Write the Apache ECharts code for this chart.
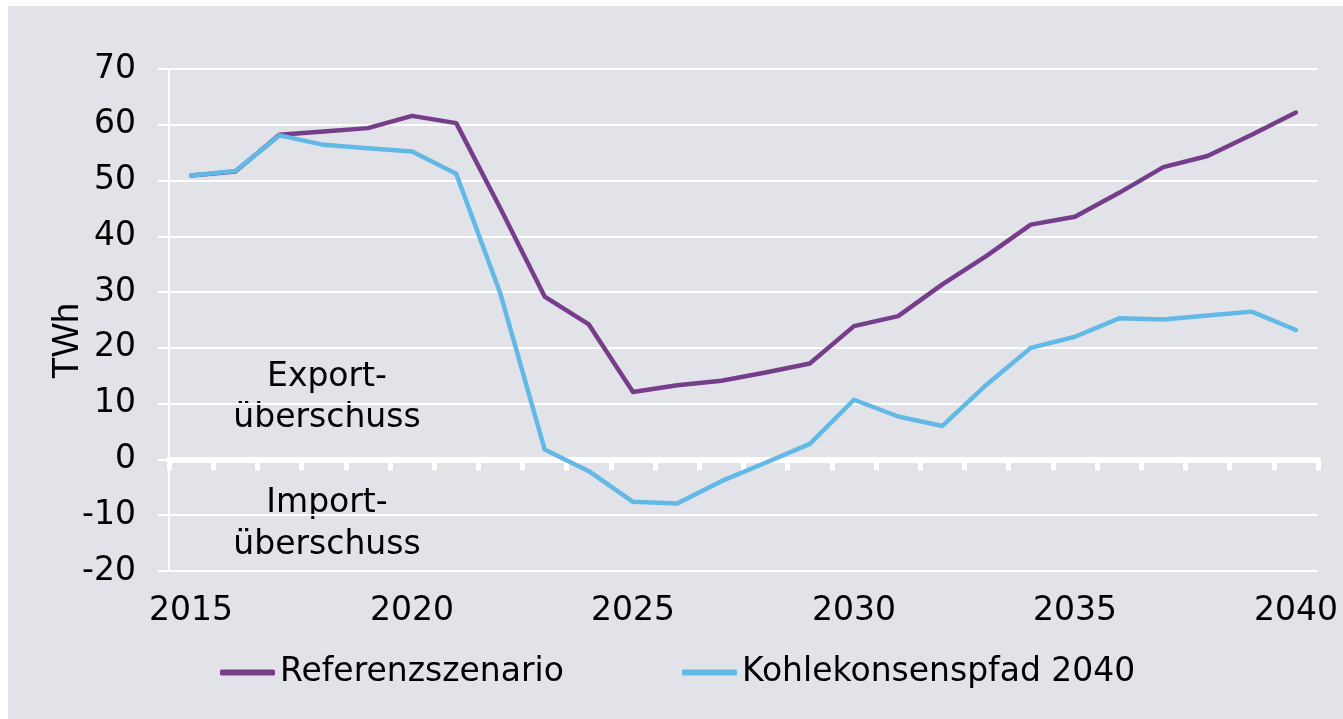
<!DOCTYPE html>
<html>
<head>
<meta charset="utf-8">
<title>Export-/Importsaldo</title>
<script src="https://cdn.jsdelivr.net/npm/echarts@6/dist/echarts.min.js"></script>
<style>
html, body { margin: 0; padding: 0; background: #ffffff; }
#chart { position: absolute; left: 8px; top: 6px; width: 1335px; height: 713px; background: #e2e3e8; }
</style>
</head>
<body>
<div id="chart"></div>
<script>
// Jahre (Kategorien)
var years = ['2015','2016','2017','2018','2019','2020','2021','2022','2023','2024','2025','2026','2027',
             '2028','2029','2030','2031','2032','2033','2034','2035','2036','2037','2038','2039','2040'];

// Saldo in TWh
var referenz = [50.9, 51.6, 58.2, 58.8, 59.4, 61.6, 60.3, 45.0, 29.2, 24.2, 12.1, 13.3, 14.1,
                15.6, 17.2, 23.9, 25.7, 31.4, 36.5, 42.1, 43.5, 47.8, 52.4, 54.4, 58.2, 62.2];
var kohle = [50.9, 51.7, 58.1, 56.4, 55.8, 55.2, 51.2, 29.7, 1.8, -2.1, -7.6, -7.9, -3.9,
             -0.6, 2.8, 10.7, 7.7, 6.0, 13.4, 20.0, 22.0, 25.3, 25.1, 25.8, 26.5, 23.2];

var yTicks = { min: -20, max: 70, step: 10 };

var font = 'DejaVu Sans';
var fontSize = 33;

var myChart = echarts.init(document.getElementById('chart'));

var option = {
    animation: false,
    backgroundColor: '#e2e3e8',
    textStyle: { fontFamily: font },
    grid: {
        left: 161,
        top: 63,
        right: 25,
        bottom: 148,
        containLabel: false
    },
    legend: {
        left: 212,
        top: 650,
        padding: 0,
        itemGap: 118,
        itemWidth: 55,
        itemHeight: 6,
        icon: 'roundRect',
        textStyle: { fontFamily: font, fontSize: fontSize, color: '#000' },
        data: ['Referenzszenario', 'Kohlekonsenspfad 2040']
    },
    xAxis: [{
        // Beschriftung unten
        type: 'category',
        position: 'bottom',
        data: years,
        boundaryGap: true,
        axisLine: { show: false, onZero: false },
        axisTick: { show: false },
        splitLine: { show: false },
        axisLabel: {
            interval: 4,
            margin: 24,
            fontFamily: font,
            fontSize: fontSize,
            color: '#000'
        }
    }, {
        // weisse Nulllinie mit Strichen
        type: 'category',
        position: 'bottom',
        data: years,
        boundaryGap: true,
        axisLine: { show: true, onZero: true, lineStyle: { color: '#ffffff', width: 6 } },
        axisTick: { show: true, interval: 0, length: 11, lineStyle: { color: '#ffffff', width: 5 } },
        axisLabel: { show: false },
        splitLine: { show: false }
    }],
    yAxis: [{
        type: 'value',
        min: yTicks.min,
        max: yTicks.max,
        interval: yTicks.step,
        axisLine: { show: true, onZero: false, lineStyle: { color: '#ffffff', width: 2 } },
        axisTick: { show: true, length: 11, lineStyle: { color: '#ffffff', width: 2 } },
        splitLine: { show: true, lineStyle: { color: '#ffffff', width: 2 } },
        axisLabel: {
            margin: 33,
            fontFamily: font,
            fontSize: fontSize,
            color: '#000'
        }
    }],
    graphic: [{
        type: 'text',
        x: 60,
        y: 335,
        rotation: Math.PI / 2,
        style: {
            text: 'TWh',
            font: '36px "Liberation Sans"',
            fill: '#000',
            align: 'center',
            verticalAlign: 'middle'
        }
    }, {
        type: 'text', x: 319, y: 371,
        style: { text: 'Export-', font: fontSize + 'px "' + font + '"', fill: '#000', align: 'center', verticalAlign: 'middle' }
    }, {
        type: 'text', x: 319, y: 412,
        style: { text: 'überschuss', font: fontSize + 'px "' + font + '"', fill: '#000', align: 'center', verticalAlign: 'middle' }
    }, {
        type: 'text', x: 319, y: 497,
        style: { text: 'Import-', font: fontSize + 'px "' + font + '"', fill: '#000', align: 'center', verticalAlign: 'middle' }
    }, {
        type: 'text', x: 319, y: 539,
        style: { text: 'überschuss', font: fontSize + 'px "' + font + '"', fill: '#000', align: 'center', verticalAlign: 'middle' }
    }],
    series: [{
        name: 'Referenzszenario',
        type: 'line',
        data: referenz,
        symbol: 'none',
        color: '#763d8b',
        lineStyle: { width: 4.5, color: '#763d8b', cap: 'round', join: 'round' }
    }, {
        name: 'Kohlekonsenspfad 2040',
        type: 'line',
        data: kohle,
        symbol: 'none',
        color: '#62b9e5',
        lineStyle: { width: 4.5, color: '#62b9e5', cap: 'round', join: 'round' }
    }]
};

myChart.setOption(option);

window.addEventListener('resize', function () {
    myChart.resize();
});
</script>
</body>
</html>
